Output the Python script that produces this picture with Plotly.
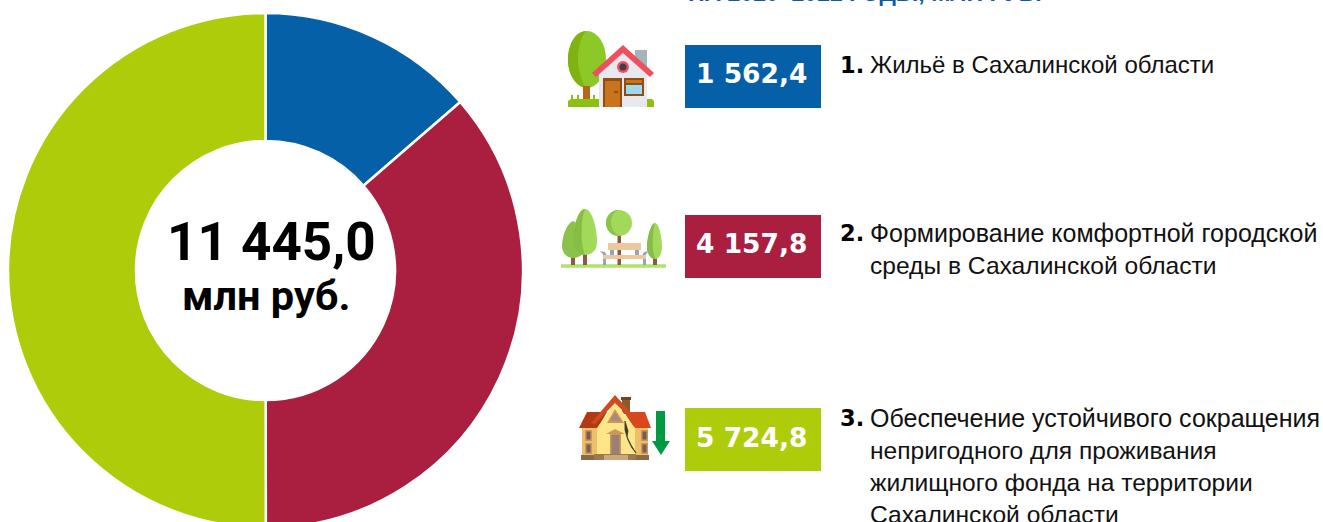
import re
import plotly.graph_objects as go

# ---- data ----
categories = ["1.", "2.", "3."]
values = [1562.4, 4157.8, 5724.8]
colors = ["#0560A8", "#AA1F40", "#AFCC0A"]
descriptions = [
    ["Жильё в Сахалинской области"],
    ["Формирование комфортной городской", "среды в Сахалинской области"],
    ["Обеспечение устойчивого сокращения", "непригодного для проживания",
     "жилищного фонда на территории", "Сахалинской области"],
]
line_sizes = [[24], [25], [25]]
unit = "млн руб."
title_tail = "НА 2020–2022 ГОДЫ, МЛН РУБ."

# ---- canvas: slightly taller than the window, the donut is cropped by the photo ----
W, H = 1323, 541
def fmt(v):
    return f"{v:,.1f}".replace(",", " ").replace(".", ",")
def px(x): return x / W
def py(y): return 1 - y / H

shapes = []
annotations = []

def path(d, fill, line=None, lw=0):
    toks = re.findall(r"[A-Za-z]|-?\d+\.?\d*", d)
    out, isx = [], True
    for t in toks:
        if t.isalpha():
            out.append(t); isx = True
        else:
            v = float(t)
            out.append(f"{px(v):.6f}" if isx else f"{py(v):.6f}")
            isx = not isx
    s = ""
    for i, t in enumerate(out):
        if t.isalpha():
            s += t
        else:
            s += t + ("," if (i + 1 < len(out) and not out[i + 1].isalpha()) else " ")
    shapes.append(dict(type="path", xref="paper", yref="paper", path=s.strip(),
                       fillcolor=fill, line=dict(color=line or fill, width=lw), layer="above"))

def rect(x0, y0, x1, y1, fill):
    shapes.append(dict(type="rect", xref="paper", yref="paper", x0=px(x0), x1=px(x1),
                       y0=py(y0), y1=py(y1), fillcolor=fill, line=dict(width=0), layer="above"))

def oval(x0, y0, x1, y1, fill):
    shapes.append(dict(type="circle", xref="paper", yref="paper", x0=px(x0), x1=px(x1),
                       y0=py(y0), y1=py(y1), fillcolor=fill, line=dict(width=0), layer="above"))

def text(x, y, s, size, family, color="#1a1a1a", anchor="left", yanchor="middle", bold=False):
    annotations.append(dict(x=px(x), y=py(y), xref="paper", yref="paper", text=f"<b>{s}</b>" if bold else s,
                            showarrow=False, xanchor=anchor, yanchor=yanchor, borderpad=0, borderwidth=0,
                            font=dict(size=size, family=family, color=color)))

# ---- value boxes and descriptions ----
box_tops = [45, 215, 408]
line_starts = [65, 233, 418]
for cat, val, col, desc, top, ly, sizes in zip(categories, values, colors, descriptions, box_tops, line_starts, line_sizes):
    rect(685, top, 821, top + 63, col)
    text(752, top + 29, fmt(val), 26.5, "DejaVu Sans", "#ffffff", "center", bold=True)
    text(840, ly, cat, 22.5, "DejaVu Sans", "#000000", bold=True)
    for i, ln in enumerate(desc):
        size = sizes[0] if i == 0 else 24.6
        text(870, ly + i * 32, ln, size, "Liberation Sans", "#111111")

# ---- centre label ----
text(271, 242, fmt(sum(values)), 53, "Roboto", "#000000", "center", bold=True)
text(266, 295, unit, 41.5, "Roboto", "#000000", "center", bold=True)

# ---- clipped heading ----
text(688, 6, title_tail, 23, "Liberation Sans", "#0A5CA6", yanchor="bottom", bold=True)

# ---- icon 1: house ----
oval(568, 31, 606, 88, "#8CC926")
path("M 586 31 C 575 31 568 45 568 60 C 568 75 576 86 586 88 C 580 78 578 68 578 58 C 578 46 581 37 586 31 Z", "#7FB30F")
rect(583, 86, 590, 100, "#B5651D")
path("M 568 107 L 568 101 L 571 99 L 601 99 L 601 107 Z", "#8CC20F")
rect(571, 95, 573, 100, "#8CC20F"); rect(577, 95, 579, 100, "#8CC20F"); rect(593, 95, 595, 100, "#8CC20F")
path("M 625 107 L 625 101 L 627 99 L 652 99 L 654 101 L 654 107 Z", "#8CC20F")
rect(635, 50, 647, 72, "#A3B5BB")
path("M 599 72 L 623 50 L 647 72 L 647 107 L 599 107 Z", "#E8E9EE")
path("M 592 73 L 623 45 L 654 73 L 650 77 L 623 53 L 596 77 Z", "#EF5060")
oval(617, 61, 629, 73, "#EF5060"); oval(619.5, 63.5, 626.5, 70.5, "#3F3F4C")
rect(603, 78, 622, 107, "#8F4E13"); rect(605, 81, 620, 107, "#C9731F"); rect(614, 91, 618, 93, "#8F4E13")
rect(624, 78, 644, 96, "#8F4E13"); rect(626, 80, 642, 83, "#C9731F"); rect(626, 85, 642, 94, "#9FD8EF")

# ---- icon 2: park ----
path("M 561 266 L 666 266", "#AEE569", "#AEE569", 3.5)
rect(571, 256, 575, 265, "#8A5A44"); rect(583, 254, 587, 265, "#8A5A44")
path("M 573 221 C 566 224 562 238 562 246 C 562 253 567 258 573 258 C 580 258 585 253 585 246 C 585 238 580 224 573 221 Z", "#8BC34A")
path("M 585 209 C 578 209 573 228 573 242 C 573 250 578 255 585 255 C 592 255 597 250 597 242 C 597 228 592 209 585 209 Z", "#A3D95A")
path("M 585 209 C 578 209 573 228 573 242 C 573 250 578 255 585 255 C 581 245 580 222 585 209 Z", "#86BE45")
rect(617.5, 233, 621, 265, "#8A5A44")
oval(606, 210, 632, 236, "#A3D95A")
path("M 619 210 C 611 210 606 216 606 223 C 606 230 611 236 619 236 C 613 232 611 227 611 222 C 611 216 614 212 619 210 Z", "#8BC34A")
rect(653, 257, 657, 265, "#8A5A44")
path("M 655 223 C 651 223 647 238 647 247 C 647 254 651 259 655 259 C 659 259 662 254 662 247 C 662 238 659 223 655 223 Z", "#A3D95A")
path("M 655 223 C 651 223 647 238 647 247 C 647 254 651 259 655 259 C 652 250 652 233 655 223 Z", "#86BE45")
rect(610, 250, 614, 256, "#98A1BD"); rect(635, 250, 639, 256, "#98A1BD")
rect(603, 256, 606, 265, "#98A1BD"); rect(643, 256, 646, 265, "#98A1BD")
path("M 600 251 L 605 252 L 607 256 L 604 256 L 602 253 Z", "#98A1BD")
path("M 649 251 L 644 252 L 642 256 L 645 256 L 647 253 Z", "#98A1BD")
rect(608, 243, 641, 250, "#ECC99C"); rect(603, 255, 646, 259, "#ECC99C")

# ---- icon 3: cracked house with arrow ----
rect(622, 397, 630, 414, "#8A5A28"); rect(621, 397, 631, 400, "#6B4420")
rect(582, 426, 648, 456, "#ECC068")
path("M 579 428 L 587 412 L 607 412 L 598 428 Z", "#B03A12")
path("M 651 428 L 645 412 L 624 412 L 634 428 Z", "#D9481C")
path("M 597 428 L 615 402 L 635 428 L 635 457 L 597 457 Z", "#FDE68A")
path("M 591 423 L 615 395 L 640 423 L 636 424 L 615 403 L 595 424 Z", "#CF4A1D")
path("M 615 409 L 607 423 L 624 423 Z", "#C99A55"); path("M 615 412 L 610 421 L 621 421 Z", "#A58A86")
rect(610, 433, 621, 456, "#C99A55"); rect(611.5, 435, 619.5, 455, "#9C7F78")
path("M 606 434 L 615 429 L 625 434 Z", "#C99A55")
for xa in (582, 638):
    rect(xa + 3, 430, xa + 10, 441, "#C99A55"); rect(xa + 4.5, 431.5, xa + 8.5, 439.5, "#7B5A5A")
    rect(xa + 3, 443, xa + 10, 454, "#C99A55"); rect(xa + 4.5, 444.5, xa + 8.5, 452.5, "#7B5A5A")
rect(581, 455, 649, 460, "#8A6A45"); rect(594, 454, 636, 460, "#9A7A50"); rect(604, 455, 628, 460, "#C9A87C")
path("M 625 421 L 628 431 L 627 437 L 631 445 L 636 453 L 632 448 L 628 440 L 625 430 Z", "#3A3A2A", "#3A3A2A", 0.8)
rect(656, 411, 665, 441, "#009A44")
path("M 652 441 L 670 441 L 661 455 Z", "#009A44")

# ---- figure ----
r = 257.5
cx, cy = 265.5, 270.5
fig = go.Figure(go.Pie(
    labels=categories, values=values, sort=False, direction="clockwise", rotation=0, hole=0.503,
    marker=dict(colors=colors, line=dict(color="#FFFFFF", width=2.5)),
    textinfo="none", hoverinfo="skip", showlegend=False,
    domain=dict(x=[px(cx - r), px(cx + r)], y=[py(cy + r), py(cy - r)]),
))
fig.update_layout(width=W, height=H, margin=dict(l=0, r=0, t=0, b=0), paper_bgcolor="#FFFFFF",
                  plot_bgcolor="#FFFFFF", shapes=shapes, annotations=annotations, showlegend=False)
fig.write_html("out.html", config=dict(displayModeBar=False),
               post_script="document.body.style.margin='0';document.documentElement.style.overflow='hidden';document.body.style.overflow='hidden';")
